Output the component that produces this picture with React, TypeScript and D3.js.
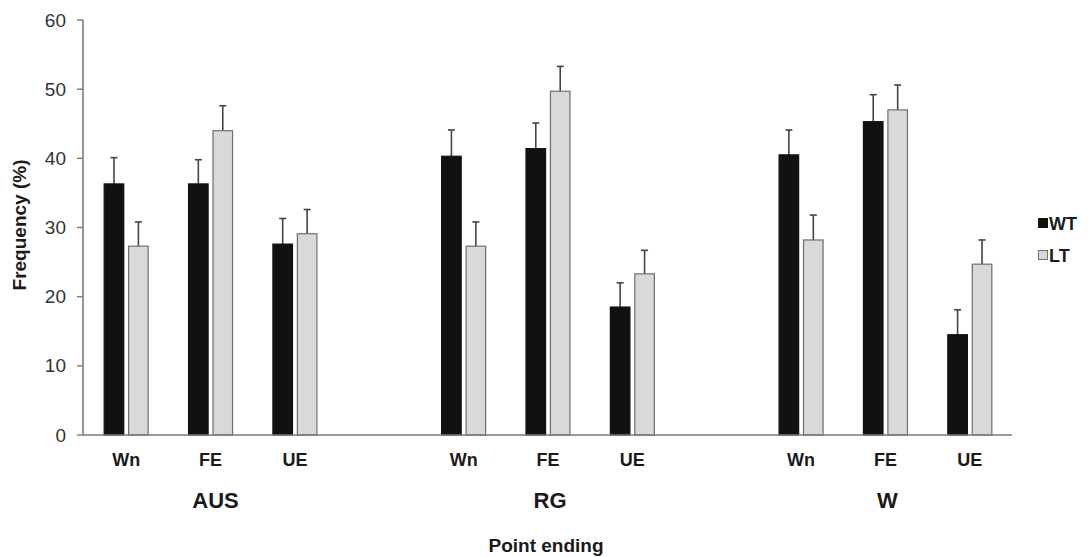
import React from "react";
import * as d3 from "d3";

const groups = ["AUS", "RG", "W"];
const categories = ["Wn", "FE", "UE"];
const series = ["WT", "LT"];
const wtValues = [36.3, 36.3, 27.6, 40.3, 41.4, 18.5, 40.5, 45.3, 14.5];
const wtErrors = [3.8, 3.5, 3.7, 3.8, 3.7, 3.5, 3.6, 3.9, 3.6];
const ltValues = [27.3, 44.0, 29.1, 27.3, 49.7, 23.3, 28.2, 47.0, 24.7];
const ltErrors = [3.5, 3.6, 3.5, 3.5, 3.6, 3.4, 3.6, 3.6, 3.5];
const yTicks = [0, 10, 20, 30, 40, 50, 60];

const W = 1088;
const H = 557;
const FONT = "'Liberation Sans', Arial, sans-serif";

export default function App() {
  const slots: string[] = [];
  groups.forEach((g, gi) => {
    categories.forEach((c) => slots.push(`${g}-${c}`));
    if (gi < groups.length - 1) slots.push(`gap${gi}`);
  });
  const x = d3.scaleBand<string>().domain(slots).range([84, 1012]).padding(0);
  const y = d3.scaleLinear().domain([0, 60]).range([435, 20]);
  const pairWidth = 44;

  const bars: { key: string; s: string; v: number; e: number; x0: number; w: number }[] = [];
  groups.forEach((g, gi) => {
    categories.forEach((c, ci) => {
      const idx = gi * 3 + ci;
      const key = `${g}-${c}`;
      const cx = (x(key) as number) + x.bandwidth() / 2;
      const inner = d3
        .scaleBand<string>()
        .domain(series)
        .range([cx - pairWidth / 2, cx + pairWidth / 2])
        .paddingInner(0.2)
        .paddingOuter(0);
      bars.push({ key, s: "WT", v: wtValues[idx], e: wtErrors[idx], x0: inner("WT") as number, w: inner.bandwidth() });
      bars.push({ key, s: "LT", v: ltValues[idx], e: ltErrors[idx], x0: inner("LT") as number, w: inner.bandwidth() });
    });
  });

  const axisColor = "#7a7a7a";
  const textColor = "#1a1a1a";

  return (
    <svg
      width={W}
      height={H}
      style={{ position: "absolute", left: 0, top: 0, background: "#fff" }}
      fontFamily={FONT}
    >
      {bars.map((b, i) => {
        const cx = b.x0 + b.w / 2;
        return (
          <g key={`e${i}`} stroke="#444" strokeWidth={1.6}>
            <line x1={cx} x2={cx} y1={y(b.v)} y2={y(b.v + b.e)} />
            <line x1={cx - 3.5} x2={cx + 3.5} y1={y(b.v + b.e)} y2={y(b.v + b.e)} />
          </g>
        );
      })}
      {bars.map((b, i) => (
        <rect
          key={`b${i}`}
          x={b.x0}
          y={y(b.v)}
          width={b.w}
          height={y(0) - y(b.v)}
          fill={b.s === "WT" ? "#111" : "#d9d9d9"}
          stroke={b.s === "WT" ? "#111" : "#6e6e6e"}
          strokeWidth={1.2}
        />
      ))}
      <line x1={83} x2={83} y1={y(60)} y2={y(0)} stroke={axisColor} strokeWidth={1.6} />
      {yTicks.map((t) => (
        <g key={t}>
          <line x1={77} x2={83} y1={y(t)} y2={y(t)} stroke={axisColor} strokeWidth={1.4} />
          <text x={66} y={y(t)} textAnchor="end" dominantBaseline="central" fontSize={19} fill="#333">
            {t}
          </text>
        </g>
      ))}
      <line x1={83} x2={1012} y1={y(0)} y2={y(0)} stroke={axisColor} strokeWidth={1.6} />
      {groups.map((g) =>
        categories.map((c) => {
          const key = `${g}-${c}`;
          const cx = (x(key) as number) + x.bandwidth() / 2;
          return (
            <text key={key} x={cx} y={466} textAnchor="middle" fontSize={18} fontWeight="bold" fill={textColor}>
              {c}
            </text>
          );
        })
      )}
      {groups.map((g) => {
        const key = `${g}-FE`;
        const cx = (x(key) as number) + x.bandwidth() / 2;
        return (
          <text
            key={g}
            x={cx + (g === "AUS" ? 5 : 2)}
            y={508}
            textAnchor="middle"
            fontSize={22}
            fontWeight="bold"
            fill={textColor}
          >
            {g}
          </text>
        );
      })}
      <text x={546} y={552} textAnchor="middle" fontSize={19} fontWeight="bold" fill={textColor}>
        Point ending
      </text>
      <text
        transform={`translate(19,225) rotate(-90)`}
        textAnchor="middle"
        dominantBaseline="central"
        fontSize={19}
        fontWeight="bold"
        fill={textColor}
      >
        Frequency (%)
      </text>
      {series.map((s, i) => (
        <g key={s} transform={`translate(1038, ${218 + i * 32})`}>
          <rect
            x={0.5}
            y={0.5}
            width={9}
            height={9}
            fill={s === "WT" ? "#111" : "#d9d9d9"}
            stroke={s === "WT" ? "#111" : "#6e6e6e"}
            strokeWidth={1}
          />
          <text x={11} y={5.5} dominantBaseline="central" fontSize={18} fontWeight="bold" fill={textColor}>
            {s}
          </text>
        </g>
      ))}
    </svg>
  );
}
